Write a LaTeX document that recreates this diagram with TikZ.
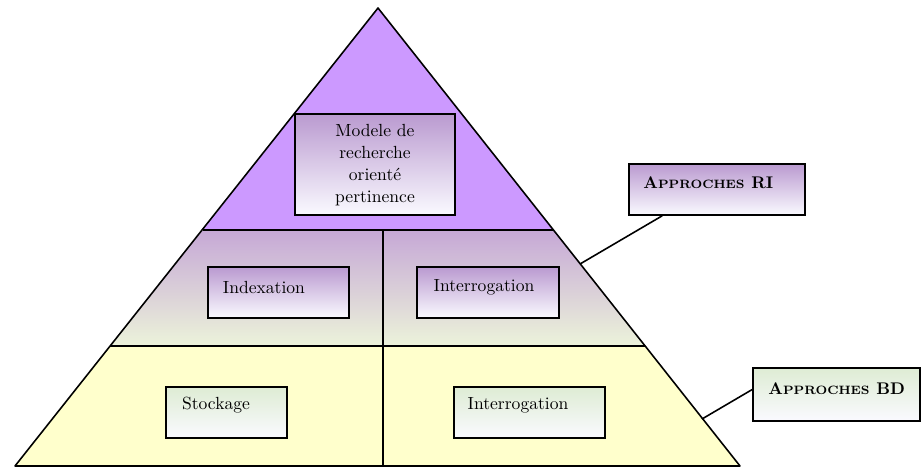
\documentclass[tikz,border=0pt]{standalone}
\definecolor{toplayer}{RGB}{204,153,255}
\definecolor{midtop}{RGB}{198,168,214}
\definecolor{midbot}{RGB}{236,243,218}
\definecolor{baselayer}{RGB}{255,255,204}
\definecolor{boxpurple}{RGB}{186,154,208}
\definecolor{boxgreen}{RGB}{222,236,212}
\definecolor{boxwhite}{RGB}{250,250,255}
\begin{document}
\begin{tikzpicture}[x=0.02cm,y=-0.02cm,
  outline/.style={line width=0.9pt, black, line join=round},
  purplebox/.style={draw, line width=0.9pt, top color=boxpurple, bottom color=boxwhite, inner sep=0pt},
  greenbox/.style={draw, line width=0.9pt, top color=boxgreen, bottom color=boxwhite, inner sep=0pt},
  lbl/.style={inner sep=0pt, font=\fontsize{10}{12.5}\selectfont},
  caps/.style={inner sep=0pt, anchor=west, font=\bfseries}]
\useasboundingbox (0,0) rectangle (924,468);

% pyramid corners and layer boundaries
\coordinate (apex) at (378,8);
\coordinate (bl) at (15,466);
\coordinate (br) at (740,466);
\coordinate (l1) at (203,230);
\coordinate (r1) at (553,230);
\coordinate (l2) at (110,346);
\coordinate (r2) at (645,346);
\coordinate (v1) at (383,230);
\coordinate (v2) at (383,466);

% layer fills
\fill[baselayer] (l2) -- (r2) -- (br) -- (bl) -- cycle;
\shade[top color=midtop, bottom color=midbot] (l1) -- (r1) -- (r2) -- (l2) -- cycle;
\fill[toplayer] (apex) -- (r1) -- (l1) -- cycle;

% layer separators and outline
\draw[outline] (l1) -- (r1);
\draw[outline] (l2) -- (r2);
\draw[outline] (v1) -- (v2);
\draw[outline] (apex) -- (br) -- (bl) -- cycle;

% boxes inside the pyramid
\node[purplebox, minimum width=3.2cm, minimum height=2.02cm] (modele) at (375,164.5) {};
\node[lbl, align=center] (modeletxt) at (375,165) {Modele de\\recherche\\orienté\\pertinence};

\node[purplebox, minimum width=2.82cm, minimum height=1.02cm] (index) at (278.5,292.5) {};
\node[lbl] (indextxt) at (264,287) {Indexation};

\node[purplebox, minimum width=2.84cm, minimum height=1.02cm] (interri) at (488,292.5) {};
\node[lbl] (interritxt) at (484,287) {Interrogation};

\node[greenbox, minimum width=2.42cm, minimum height=1.02cm] (stock) at (226.5,412.5) {};
\node[lbl] (stocktxt) at (216,405) {Stockage};

\node[greenbox, minimum width=3.02cm, minimum height=1.02cm] (interbd) at (529.5,412.5) {};
\node[lbl] (interbdtxt) at (518,405) {Interrogation};

% side labels
\node[purplebox, minimum width=3.52cm, minimum height=1.02cm] (apri) at (717,189.5) {};
\node[caps] (apritxt) at (643,183) {{\fontsize{9.6}{12}\selectfont A}{\fontsize{6.9}{10}\selectfont PPROCHES} {\fontsize{9.6}{12}\selectfont RI}};

\node[greenbox, minimum width=3.34cm, minimum height=1.06cm] (aprbd) at (836.5,394.5) {};
\node[caps] (aprbdtxt) at (768,389) {{\fontsize{9.6}{12}\selectfont A}{\fontsize{6.9}{10}\selectfont PPROCHES} {\fontsize{9.6}{12}\selectfont BD}};

% connectors from side labels to the pyramid
\coordinate (riend) at (580,264);
\coordinate (bdend) at (702,419);
\draw[outline] (apri.south west) ++(34,0) -- (riend);
\draw[outline] (aprbd.west) ++(0,-5) -- (bdend);
\end{tikzpicture}
\end{document}
